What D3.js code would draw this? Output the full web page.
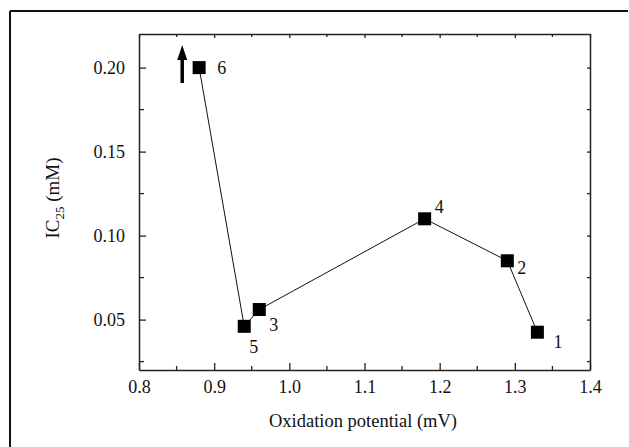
<!DOCTYPE html>
<html><head><meta charset="utf-8">
<script src="https://cdn.jsdelivr.net/npm/d3@7"></script>
<style>body{margin:0;background:#fff}svg{display:block}svg text{font-family:'Liberation Serif','Times New Roman',Times,serif !important;fill:#111}</style>
</head><body>
<script>
const potentials = [0.88, 0.94, 0.96, 1.18, 1.29, 1.33];
const ic25 = [0.200, 0.046, 0.056, 0.110, 0.085, 0.0425];
const labels = ["6", "5", "3", "4", "2", "1"];
const xTicks = [0.8, 0.9, 1.0, 1.1, 1.2, 1.3, 1.4];
const yTicks = [0.05, 0.10, 0.15, 0.20];

const W = 629, H = 447;
const m = {l: 139, t: 34, r: 590, b: 370};
const svg = d3.select("body").append("svg").attr("width", W).attr("height", H);

// outer frame
svg.append("line").attr("x1", 10).attr("y1", 11).attr("x2", 10).attr("y2", H).attr("stroke", "#111").attr("stroke-width", 2);
svg.append("line").attr("x1", 10).attr("y1", 11).attr("x2", 628).attr("y2", 11).attr("stroke", "#111").attr("stroke-width", 2);

const x = d3.scaleLinear().domain([0.8, 1.4]).range([m.l, m.r]);
const y = d3.scaleLinear().domain([0.02, 0.22]).range([m.b, m.t]);

const xMinor = [0.85, 0.95, 1.05, 1.15, 1.25, 1.35];
const yMinor = [0.025, 0.075, 0.125, 0.175];

function styleAxis(g) {
  g.attr("font-family", null);
  g.select(".domain").attr("stroke", "#222").attr("stroke-width", 1.5);
  g.selectAll(".tick line").attr("stroke", "#222").attr("stroke-width", 1.3);
}

// bottom
const gb = svg.append("g").attr("transform", `translate(0,${m.b})`)
  .call(d3.axisBottom(x).tickValues(xTicks).tickFormat(d3.format(".1f")).tickSizeInner(-7).tickSizeOuter(0).tickPadding(10));
styleAxis(gb);
gb.selectAll("text").attr("font-size", 18);
gb.selectAll(".minor").data(xMinor).enter().append("line").attr("x1", d => x(d)).attr("x2", d => x(d)).attr("y1", 0).attr("y2", -4).attr("stroke", "#222").attr("stroke-width", 1.3);

// top
const gt = svg.append("g").attr("transform", `translate(0,${m.t})`)
  .call(d3.axisTop(x).tickValues(xTicks).tickFormat("").tickSizeInner(-4).tickSizeOuter(0));
styleAxis(gt);
gt.selectAll(".minor").data(xMinor).enter().append("line").attr("x1", d => x(d)).attr("x2", d => x(d)).attr("y1", 0).attr("y2", 3).attr("stroke", "#222").attr("stroke-width", 1.3);

// left
const gl = svg.append("g").attr("transform", `translate(${m.l},0)`)
  .call(d3.axisLeft(y).tickValues(yTicks).tickFormat(d3.format(".2f")).tickSizeInner(-7).tickSizeOuter(0).tickPadding(14));
styleAxis(gl);
gl.selectAll("text").attr("font-size", 18);
gl.selectAll(".minor").data(yMinor).enter().append("line").attr("y1", d => y(d)).attr("y2", d => y(d)).attr("x1", 0).attr("x2", 5).attr("stroke", "#222").attr("stroke-width", 1.3);

// right
const gr = svg.append("g").attr("transform", `translate(${m.r},0)`)
  .call(d3.axisRight(y).tickValues(yTicks).tickFormat("").tickSizeInner(-3).tickSizeOuter(0));
styleAxis(gr);
gr.selectAll(".minor").data(yMinor).enter().append("line").attr("y1", d => y(d)).attr("y2", d => y(d)).attr("x1", 0).attr("x2", -3).attr("stroke", "#222").attr("stroke-width", 1.3);

// data
const pts = potentials.map((p, i) => ({p, v: ic25[i], lab: labels[i]}));
svg.append("path").datum(pts)
  .attr("d", d3.line().x(d => x(d.p)).y(d => y(d.v)))
  .attr("fill", "none").attr("stroke", "#111").attr("stroke-width", 1);
const s = 13;
svg.selectAll("rect.pt").data(pts).enter().append("rect")
  .attr("x", d => x(d.p) - s/2).attr("y", d => y(d.v) - s/2)
  .attr("width", s).attr("height", s).attr("fill", "#000");

const offs = {"6": [18, 6], "5": [5, 27], "3": [10, 21], "4": [10, -6], "2": [10, 13], "1": [16, 16]};
svg.selectAll("text.lab").data(pts).enter().append("text")
  .attr("x", d => x(d.p) + offs[d.lab][0]).attr("y", d => y(d.v) + offs[d.lab][1])
  .attr("font-size", 18).text(d => d.lab);

// arrow near point 6
const ax = x(0.8575), aTop = 45, aBot = 83;
svg.append("line").attr("x1", ax).attr("x2", ax).attr("y1", aBot).attr("y2", aTop + 10).attr("stroke", "#000").attr("stroke-width", 3.5);
svg.append("path").attr("d", `M${ax},${aTop} L${ax-5},${aTop+15} L${ax+5},${aTop+15} Z`).attr("fill", "#000");

// axis titles
svg.append("text").attr("x", 363).attr("y", 427).attr("text-anchor", "middle").attr("font-size", 18.5).text("Oxidation potential (mV)");
const yl = svg.append("text").attr("transform", `translate(59,198) rotate(-90)`).attr("text-anchor", "middle").attr("font-size", 19);
yl.append("tspan").text("IC");
yl.append("tspan").attr("font-size", 13).attr("dy", 5).text("25");
yl.append("tspan").attr("dy", -5).text(" (mM)");
</script>
</body></html>
